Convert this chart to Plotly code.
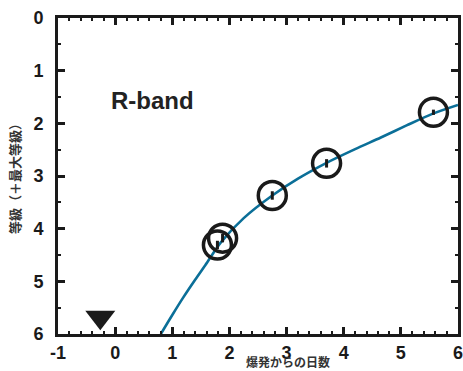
import plotly.graph_objects as go

# Observed R-band magnitudes (days since explosion, magnitude relative to peak)
obs_days = [1.79, 1.88, 2.75, 3.70, 5.57]
obs_mag = [4.31, 4.18, 3.37, 2.76, 1.79]
obs_err = [0.08, 0.08, 0.08, 0.08, 0.05]

# Pre-discovery upper limit
limit_days = [-0.26]
limit_mag = [5.68]

# Fitted light-curve model
model_days = [0.80, 1.00, 1.19, 1.40, 1.58, 1.85, 2.25, 2.75, 3.20, 3.70, 4.20, 4.65, 5.10, 5.55, 6.00]
model_mag = [6.00, 5.64, 5.31, 4.97, 4.69, 4.26, 3.80, 3.37, 3.05, 2.75, 2.49, 2.27, 2.04, 1.82, 1.65]

# Axis ticks
x_ticks = [-1, 0, 1, 2, 3, 4, 5, 6]
y_ticks = [0, 1, 2, 3, 4, 5, 6]

tick_font = dict(family="Liberation Sans, Arial, sans-serif", size=18, color="#1a1a1a")

fig = go.Figure()

fig.add_trace(go.Scatter(
    x=model_days, y=model_mag, mode="lines",
    line=dict(color="#0b6f98", width=2.6, shape="spline", smoothing=0.8),
    hoverinfo="skip", showlegend=False,
))

fig.add_trace(go.Scatter(
    x=obs_days, y=obs_mag, mode="markers",
    marker=dict(symbol="circle-open", size=28, color="#1a1a1a", line=dict(width=3.5, color="#1a1a1a")),
    error_y=dict(type="data", array=obs_err, visible=True, color="#1a1a1a", thickness=3, width=0),
    showlegend=False,
))

fig.add_trace(go.Scatter(
    x=limit_days, y=limit_mag, mode="markers",
    marker=dict(symbol="triangle-down", size=26, color="#1a1a1a"),
    showlegend=False,
))

fig.add_annotation(
    x=0.66, y=1.57, text="<b>R-band</b>", showarrow=False,
    font=dict(family="Liberation Sans, Arial, sans-serif", size=24, color="#222222"),
)

# Axis titles placed as paper-anchored annotations
fig.add_annotation(
    xref="paper", yref="paper", x=0.575, y=0, yanchor="bottom", yshift=-37,
    text="<b>爆発からの日数</b>", showarrow=False, borderpad=0,
    font=dict(family="Noto Sans CJK JP", size=12, color="#333333"),
)
fig.add_annotation(
    xref="paper", yref="paper", x=0, y=0.5, xanchor="center", xshift=-44,
    text="<b>等級（＋最大等級）</b>", textangle=-90, showarrow=False,
    font=dict(family="Noto Sans CJK JP", size=13, color="#333333"),
)

axis_common = dict(
    showline=True, linecolor="#1a1a1a", linewidth=3, mirror="allticks",
    ticks="inside", ticklen=7, tickwidth=2.5, tickcolor="#1a1a1a",
    showgrid=False, zeroline=False, tickfont=tick_font, automargin=False,
    ticklabeloverflow="allow",
)

fig.update_xaxes(
    range=[-1, 6], tickmode="array", tickvals=x_ticks,
    ticktext=[f"<b>{v}</b>" for v in x_ticks],
    minor=dict(dtick=0.2, tick0=0, ticks="inside", ticklen=3, tickwidth=2, tickcolor="#1a1a1a"),
    ticklabelstandoff=0,
    **axis_common,
)
fig.update_yaxes(
    range=[6, 0], tickmode="array", tickvals=y_ticks,
    ticktext=[f"<b>{v}</b>" for v in y_ticks],
    minor=dict(dtick=0.5, tick0=0, ticks="inside", ticklen=3, tickwidth=2, tickcolor="#1a1a1a"),
    ticklabelstandoff=8,
    **axis_common,
)

fig.update_layout(
    width=463, height=371,
    margin=dict(l=58, r=5, t=18, b=37),
    paper_bgcolor="white", plot_bgcolor="white",
)

fig.write_html("out.html")
